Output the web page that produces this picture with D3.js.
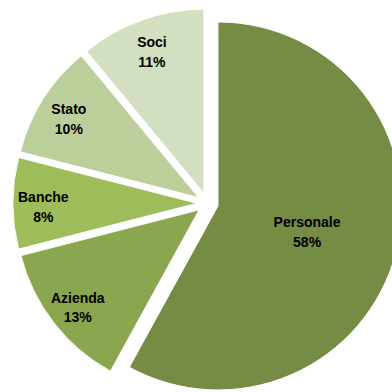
<html>
<head>
<script src="https://d3js.org/d3.v7.min.js"></script>
<style>
body { margin: 0; background: #fff; }
text { font-family: "Liberation Sans", Arial, sans-serif; font-weight: bold; font-size: 14px; fill: #000; }
</style>
</head>
<body>
<svg width="392" height="392"></svg>
<script>
// data, clockwise from 12 o'clock
var labels = ["Personale", "Azienda", "Banche", "Stato", "Soci"];
var values = [58, 13, 8, 10, 11];
var colors = ["#768b44", "#8aa64f", "#9dbc5a", "#bccf9a", "#d2dfc0"];

var cx = 207.6, cy = 203.3; // pie centre
var radius = 184;
var explode = 10.7; // every slice pulled out a bit

var svg = d3.select("svg");
var g = svg.append("g").attr("transform", "translate(" + cx + "," + cy + ")");

var pie = d3.pie().sort(null).value(function(d, i) { return values[i]; });
var arcs = pie(labels);
var arc = d3.arc().innerRadius(0).outerRadius(radius);

function mid(d) { return (d.startAngle + d.endAngle) / 2; }
function shift(d, r) {
  var a = mid(d);
  return [Math.sin(a) * r, -Math.cos(a) * r];
}

var slice = g.selectAll("g.slice").data(arcs).enter().append("g")
  .attr("class", "slice")
  .attr("transform", function(d) { var p = shift(d, explode); return "translate(" + p[0] + "," + p[1] + ")"; });

slice.append("path")
  .attr("d", arc)
  .attr("fill", function(d, i) { return colors[i]; })
  .attr("stroke", "#fff")
  .attr("stroke-width", 1);

/// labels: big slice gets its label closer in
var lab = slice.append("text")
  .attr("text-anchor", "middle")
  .attr("transform", function(d) {
    var r = values[d.index] > 50 ? radius * 0.5 : radius * 0.835;
    var p = shift(d, r);
    return "translate(" + p[0] + "," + p[1] + ")";
  });
lab.append("tspan").attr("x", 0).attr("dy", "-0.1em").text(function(d) { return d.data; });
lab.append("tspan").attr("x", 0).attr("dy", "1.42em").text(function(d) { return values[d.index] + "%"; });
</script>
</body>
</html>
